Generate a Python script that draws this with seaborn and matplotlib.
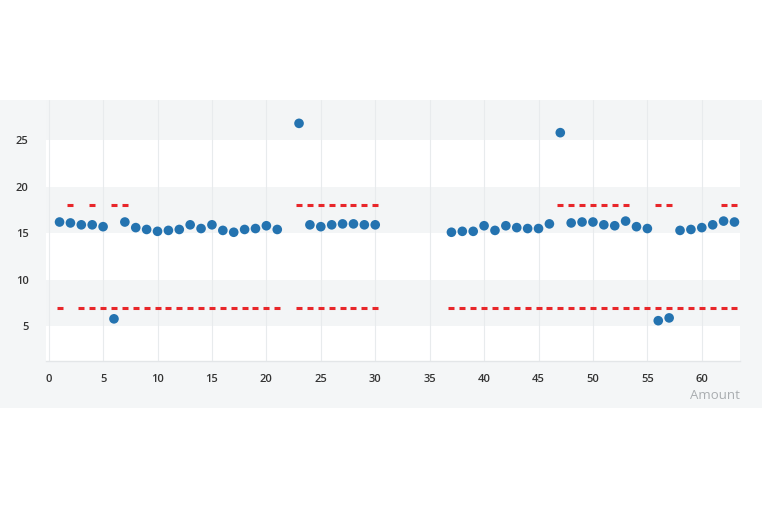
import numpy as np
import pandas as pd
import matplotlib
matplotlib.use("Agg")
import matplotlib.pyplot as plt
import seaborn as sns
from matplotlib.patches import Rectangle

# measured values per sample
sample = list(range(1, 22)) + list(range(23, 31)) + list(range(37, 64))
value = [16.2, 16.1, 15.9, 15.9, 15.7, 5.8, 16.2, 15.6, 15.4, 15.2,
         15.3, 15.4, 15.9, 15.5, 15.9, 15.3, 15.1, 15.4, 15.5, 15.8, 15.4,
         26.8, 15.9, 15.7, 15.9, 16.0, 16.0, 15.9, 15.9,
         15.1, 15.2, 15.2, 15.8, 15.3, 15.8, 15.6, 15.5, 15.5, 16.0,
         25.8, 16.1, 16.2, 16.2, 15.9, 15.8, 16.3, 15.7, 15.5, 5.6,
         5.9, 15.3, 15.4, 15.6, 15.9, 16.3, 16.2]

# control limits (only drawn where defined)
upper_x = [2, 4, 6, 7] + list(range(23, 31)) + list(range(47, 54)) + [56, 57, 62, 63]
upper_val = 18
lower_x = [1] + list(range(3, 22)) + list(range(23, 31)) + list(range(37, 64))
lower_val = 7

df = pd.DataFrame({"Amount": sample, "Value": value})
up_df = pd.DataFrame({"Amount": upper_x, "Value": [upper_val] * len(upper_x)})
lo_df = pd.DataFrame({"Amount": lower_x, "Value": [lower_val] * len(lower_x)})

sns.set_theme(style="white")
plt.rcParams["font.family"] = ["Open Sans", "DejaVu Sans"]

fig = plt.figure(figsize=(7.62, 5.08), dpi=100)
ax = fig.add_axes([0.061, 0.289, 0.910, 0.514])
ax.set_facecolor("white")
# grey card behind the chart
card = Rectangle((0, 0.197), 1, 0.606, transform=fig.transFigure,
                 facecolor="#f4f6f7", edgecolor="none", zorder=-10)
fig.add_artist(card)

ymin, ymax = 1.25, 29.3
# alternating bands
for lo, hi in [(5, 10), (15, 20), (25, ymax)]:
    ax.axhspan(lo, hi, color="#f3f5f6", zorder=0, lw=0)

for xv in range(0, 65, 5):
    ax.axvline(xv, color="#e8ebed", lw=0.8, zorder=0.5)

sns.scatterplot(data=up_df, x="Amount", y="Value", marker="_", s=25,
                color="#e8262a", linewidth=2.2, ax=ax, zorder=2)
sns.scatterplot(data=lo_df, x="Amount", y="Value", marker="_", s=25,
                color="#e8262a", linewidth=2.2, ax=ax, zorder=2)
sns.scatterplot(data=df, x="Amount", y="Value", s=48, color="#2473b0",
                edgecolor="none", ax=ax, zorder=3)

ax.set_xlim(-0.2, 63.5)
ax.set_ylim(ymin, ymax)
ax.set_xticks(range(0, 61, 5))
ax.set_yticks([5, 10, 15, 20, 25])
ax.tick_params(axis="both", length=0, labelsize=8, labelcolor="#333333")
ax.tick_params(axis="y", pad=13)
ax.tick_params(axis="x", pad=9)
for lab in ax.get_xticklabels() + ax.get_yticklabels():
    lab.set_fontweight("semibold")

for s in ["top", "right", "left"]:
    ax.spines[s].set_visible(False)
ax.spines["bottom"].set_color("#e3e6e8")
ax.spines["bottom"].set_linewidth(1)

ax.set_xlabel("")
ax.set_ylabel("")
fig.text(0.971, 0.222, "Amount", ha="right", va="center", fontsize=9.5,
         color="#a9adb0")

fig.savefig("out.png", dpi=100, facecolor="white")
